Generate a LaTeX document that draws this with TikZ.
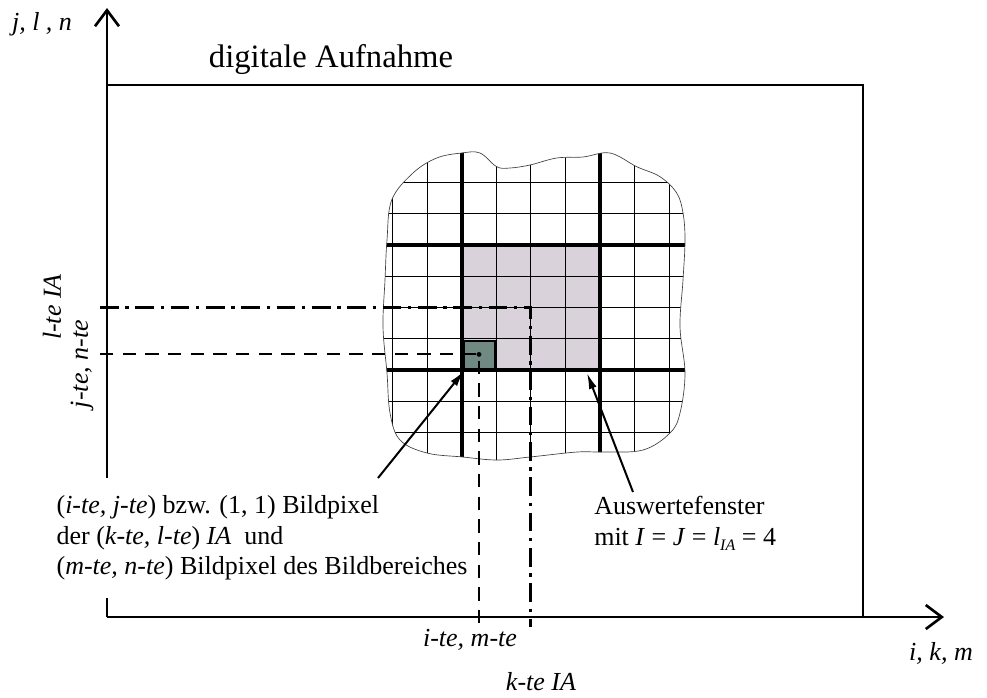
\documentclass[tikz,border=0pt]{standalone}
\usepackage{fontspec}
\setmainfont{Liberation Serif}
\usetikzlibrary{arrows.meta}
\definecolor{iafill}{RGB}{217,210,219}
\definecolor{pxfill}{RGB}{112,138,131}
\tikzset{
 frameline/.style={line width=2.2pt},
 axisline/.style={line width=2.2pt, -{Straight Barb[length=12pt,width=18pt,line width=2pt]}},
 gridthin/.style={line width=0.7pt},
 gridthick/.style={line width=3pt},
 dashline/.style={line width=1.5pt, dash pattern=on 10pt off 7pt},
 dashdot/.style={line width=2.2pt, dash pattern=on 14pt off 5pt on 2.5pt off 5pt},
 callout/.style={line width=1.5pt, -{Latex[length=12pt,width=6pt]}},
 lbl/.style={font=\fontsize{19.5}{22.9}\selectfont, inner sep=0pt},
 titlelbl/.style={font=\fontsize{24.5}{28}\selectfont, inner sep=0pt},
}
\begin{document}
\begin{tikzpicture}[x=0.75pt,y=-0.75pt]
\useasboundingbox (0,0) rectangle (987,697);
\def\blobpath{plot[smooth cycle, tension=0.6] coordinates {(391.7,200) (413,173) (436.7,158) (461.7,153) (480,153) (496.7,166.7) (510,168) (530,165) (556.7,158) (583,157) (610,153) (636.7,166.7) (660,176.7) (676.7,193) (683,213) (685,240) (683,280) (680,327) (685,373) (680,413) (670,433) (643,450) (603,452) (577,452) (530,457) (497,460) (463,457) (427,453) (400,440) (390,413) (387,373) (383,327) (385,280) (387,240)}}
% frame and axes
\coordinate (O) at (107,617);
\coordinate (ytip) at (107,8);
\coordinate (xtip) at (944,617);
\coordinate (ftl) at (107,85);
\coordinate (fbr) at (863,617);
\draw[frameline] (ftl) -| (fbr);
\draw[axisline] (O) -- (ytip);
\draw[axisline] (O) -- (xtip);
% grid inside blob
\begin{scope}
\clip \blobpath;
\fill[iafill] (461.7,245) rectangle (600.1,370);
\foreach \i in {-3,...,7} { \draw[gridthin] ({461.7+\i*34.6},140) -- ({461.7+\i*34.6},475); }
\foreach \j in {-3,...,7} { \draw[gridthin] (370,{245+\j*31.25}) -- (700,{245+\j*31.25}); }
\draw[gridthick] (461.7,140) -- (461.7,475);
\draw[gridthick] (600.1,140) -- (600.1,475);
\draw[gridthick] (370,245) -- (700,245);
\draw[gridthick] (370,370) -- (700,370);
\end{scope}
\draw[line width=0.5pt, black!75] \blobpath;
% pixel
\filldraw[fill=pxfill, draw=black, line width=1.5pt] (463.5,341) rectangle (494.5,369);
% dashed guides
\coordinate (hL) at (100,354.4);
\coordinate (pc) at (479,354.4);
\coordinate (vB) at (479,628);
\draw[dashline] (hL) -- (pc) -- (vB);
\fill (pc) circle (1.8pt);
\coordinate (dL) at (100,307.5);
\coordinate (dC) at (530.9,307.5);
\coordinate (dB) at (530.9,627);
\draw[dashdot] (dL) -- (dC) -- (dB);
% labels
\node[lbl] (ylab) at (42,24) {\textit{j, l , n}};
\node[titlelbl] (title) at (331,60) {digitale Aufnahme};
\node[lbl, rotate=90] (lte) at (52,307) {\textit{l-te IA}};
\node[lbl, rotate=90] (jte) at (82,364) {\textit{j-te, n-te}};
\node[lbl] (ite) at (470,640) {\textit{i-te, m-te}};
\node[lbl] (kte) at (541,682) {\textit{k-te IA}};
\node[lbl] (xlab) at (941,653) {\textit{i, k, m}};
\node[lbl, anchor=west, align=left, fill=white, inner xsep=4pt, inner ysep=13pt] (pxtext) at (51,538) {(\textit{i-te, j-te}) bzw. (1, 1) Bildpixel\\ der (\textit{k-te, l-te}) \textit{IA}\ \ und\\ (\textit{m-te, n-te}) Bildpixel des Bildbereiches};
\node[lbl, anchor=north west, align=left] (awtext) at (594,496) {Auswertefenster\\ mit \textit{I} = \textit{J} = \textit{l}\raisebox{-0.45ex}{\fontsize{12}{12}\selectfont\textit{IA}} = 4};
% callout arrows
\coordinate (a1s) at (378,478);
\coordinate (a1e) at (464,371);
\draw[callout] (a1s) -- (a1e);
\coordinate (a2s) at (633,492);
\coordinate (a2e) at (587,373);
\draw[callout] (a2s) -- (a2e);
\end{tikzpicture}
\end{document}
